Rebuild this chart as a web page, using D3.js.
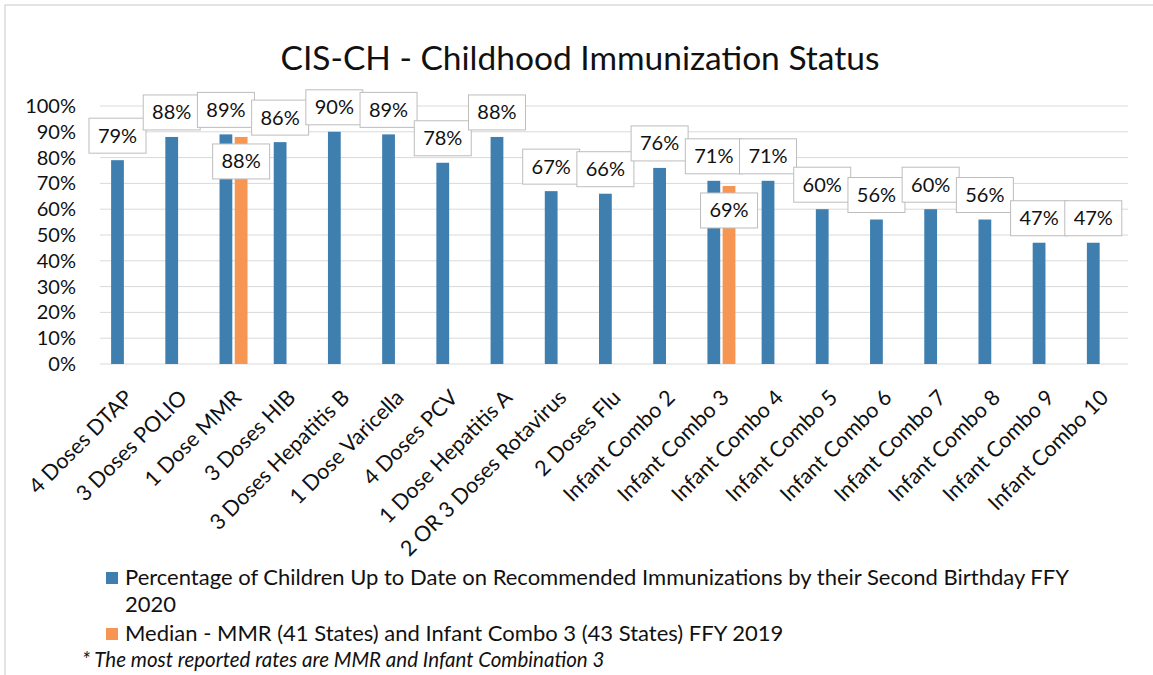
<!DOCTYPE html>
<html>
<head>
<meta charset="utf-8">
<script src="https://cdn.jsdelivr.net/npm/d3@7"></script>
<style>
  body { margin: 0; background: #fff; }
  text { font-family: Lato, "Open Sans", sans-serif; fill: #111; }
</style>
</head>
<body>
<script>
// categories along the x axis
const categories = ['4 Doses DTAP', '3 Doses POLIO', '1 Dose MMR', '3 Doses HIB', '3 Doses Hepatitis B',
  '1 Dose Varicella', '4 Doses PCV', '1 Dose Hepatitis A', '2 OR 3 Doses Rotavirus', '2 Doses Flu',
  'Infant Combo 2', 'Infant Combo 3', 'Infant Combo 4', 'Infant Combo 5', 'Infant Combo 6',
  'Infant Combo 7', 'Infant Combo 8', 'Infant Combo 9', 'Infant Combo 10'];
// percentage up to date FFY 2020
const rate2020 = [79, 88, 89, 86, 90, 89, 78, 88, 67, 66, 76, 71, 71, 60, 56, 60, 56, 47, 47];
// median FFY 2019 (only MMR and Infant Combo 3)
const median2019 = [null, null, 88, null, null, null, null, null, null, null, null, 69, null, null, null, null, null, null, null];
const yTicks = [0, 10, 20, 30, 40, 50, 60, 70, 80, 90, 100];
const seriesNames = ['Percentage of Children Up to Date on Recommended Immunizations by their Second Birthday FFY 2020',
  'Median - MMR (41 States) and Infant Combo 3 (43 States) FFY 2019'];
const colors = ['#3f7fb0', '#f79552'];

const width = 1153, height = 675;
const svg = d3.select('body').append('svg')
  .attr('width', width)
  .attr('height', height);

//faint page border
svg.append('rect')
  .attr('x', 5).attr('y', 5).attr('width', width + 10).attr('height', height + 10)
  .attr('fill', 'none').attr('stroke', '#c8c8c8');

//title
svg.append('text')
  .attr('x', 580).attr('y', 70)
  .attr('text-anchor', 'middle')
  .style('font-size', '33.5px')
  .text('CIS-CH - Childhood Immunization Status');

const x = d3.scaleBand().domain(categories).range([98, 1128]);
const x1 = d3.scaleBand().domain([0, 1])
  .range([x.bandwidth() / 2 - 14, x.bandwidth() / 2 + 14])
  .paddingInner(0.16);
const y = d3.scaleLinear().domain([0, 100]).range([364, 106]);

//gridlines
svg.append('g')
  .selectAll('line')
  .data(yTicks)
  .enter()
  .append('line')
  .attr('x1', 100).attr('x2', 1128)
  .attr('y1', (d) => y(d)).attr('y2', (d) => y(d))
  .attr('stroke', '#d9d9d9')
  .attr('stroke-width', 1);

//y axis labels
const yAxis = svg.append('g')
  .attr('transform', 'translate(76,0)')
  .call(d3.axisLeft(y).tickValues(yTicks).tickFormat((d) => d + '%').tickSize(0).tickPadding(0));
yAxis.select('.domain').remove();
yAxis.selectAll('text')
  .style('font-size', '20px')
  .style('font-family', 'Lato, sans-serif')
  .attr('fill', '#111');

//x axis labels, rotated
const xAxis = svg.append('g')
  .attr('transform', 'translate(0,364)')
  .call(d3.axisBottom(x).tickSize(0).tickPadding(0));
xAxis.select('.domain').remove();
xAxis.selectAll('text')
  .style('font-size', '21.5px')
  .style('font-family', 'Lato, sans-serif')
  .attr('fill', '#111')
  .attr('text-anchor', 'end')
  .attr('dy', 0)
  .attr('transform', 'translate(9,35) rotate(-45)');

//bars
const rows = categories.map((c, i) => ({ cat: c, v: [rate2020[i], median2019[i]] }));
const groups = svg.append('g')
  .selectAll('g')
  .data(rows)
  .enter()
  .append('g')
  .attr('transform', (d) => `translate(${x(d.cat)},0)`);

groups.selectAll('rect')
  .data((d) => d.v.map((v, s) => ({ v, s })).filter((e) => e.v !== null))
  .enter()
  .append('rect')
  .attr('x', (d) => x1(d.s))
  .attr('width', x1.bandwidth())
  .attr('y', (d) => y(d.v))
  .attr('height', (d) => y(0) - y(d.v))
  .attr('fill', (d) => colors[d.s]);

//data label callouts
const boxW = 57, boxH = 35;
const labels = [];
rows.forEach((r) => {
  r.v.forEach((v, s) => {
    if (v === null) return;
    const cx = x(r.cat) + x1(s) + x1.bandwidth() / 2;
    //blue labels sit above the bar, orange ones just inside the top
    const top = s === 0 ? y(v) - 7 - boxH : y(v) + 7;
    labels.push({ v, cx, top });
  });
});
const lab = svg.append('g')
  .selectAll('g')
  .data(labels)
  .enter()
  .append('g');
lab.append('rect')
  .attr('x', (d) => d.cx - boxW / 2)
  .attr('y', (d) => d.top)
  .attr('width', boxW)
  .attr('height', boxH)
  .attr('fill', '#fff')
  .attr('stroke', '#bdbdbd');
lab.append('text')
  .attr('x', (d) => d.cx)
  .attr('y', (d) => d.top + boxH / 2 + 7)
  .attr('text-anchor', 'middle')
  .style('font-size', '20px')
  .text((d) => d.v + '%');

//legend
const legend = svg.append('g');
legend.append('rect').attr('x', 106).attr('y', 572).attr('width', 12).attr('height', 12).attr('fill', colors[0]);
legend.append('text').attr('x', 125).attr('y', 585).style('font-size', '22px')
  .text('Percentage of Children Up to Date on Recommended Immunizations by their Second Birthday FFY');
legend.append('text').attr('x', 125).attr('y', 612).style('font-size', '22px').text('2020');
legend.append('rect').attr('x', 106).attr('y', 628).attr('width', 12).attr('height', 12).attr('fill', colors[1]);
legend.append('text').attr('x', 125).attr('y', 641).style('font-size', '22px').text(seriesNames[1]);

//footnote
svg.append('text')
  .attr('x', 82).attr('y', 667)
  .style('font-size', '20.5px')
  .style('font-style', 'italic')
  .text('* The most reported rates are MMR and Infant Combination 3');
</script>
</body>
</html>
